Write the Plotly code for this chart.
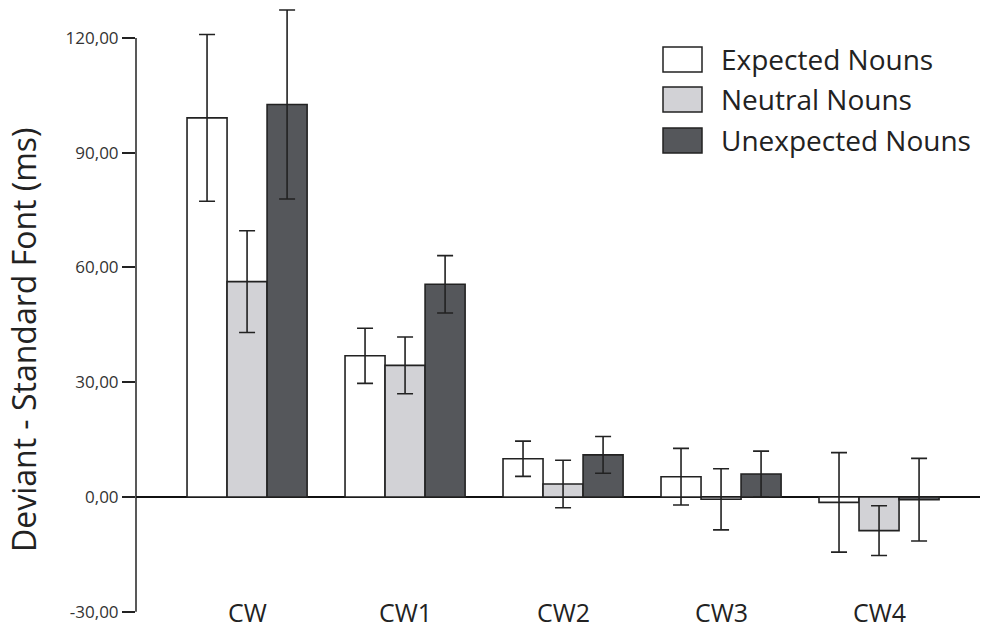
import plotly.graph_objects as go

categories = ["CW", "CW1", "CW2", "CW3", "CW4"]
series_names = ["Expected Nouns", "Neutral Nouns", "Unexpected Nouns"]
expected = [99.1, 36.9, 10.0, 5.3, -1.4]
expected_err = [21.8, 7.2, 4.6, 7.4, 13.0]
neutral = [56.3, 34.4, 3.4, -0.6, -8.8]
neutral_err = [13.3, 7.4, 6.2, 8.0, 6.5]
unexpected = [102.6, 55.6, 11.0, 6.0, -0.7]
unexpected_err = [24.7, 7.5, 4.8, 6.0, 10.8]
y_tickvals = [-30, 0, 30, 60, 90, 120]
y_ticktext = ["-30,00", "0,00", "30,00", "60,00", "90,00", "120,00"]
y_title = "Deviant - Standard Font (ms)"

values = [expected, neutral, unexpected]
errors = [expected_err, neutral_err, unexpected_err]
colors = ["#FFFFFF", "#D2D2D6", "#55575B"]
FONT = "Open Sans"

W, H = 993, 629
ML, MR, MT, MB = 136, 13, 0, 0
PLOT_H = H - MT - MB
PX_PER_UNIT = 3.826
Y0_SCREEN = 497         # pixel row of value 0
y_top = (Y0_SCREEN - MT) / PX_PER_UNIT
y_bot = -((MT + PLOT_H) - Y0_SCREEN) / PX_PER_UNIT

xpos = list(range(len(categories)))

fig = go.Figure()
for name, vals, errs, col in zip(series_names, values, errors, colors):
    fig.add_trace(go.Bar(
        x=xpos, y=vals, name=name,
        marker=dict(color=col, line=dict(color="#222222", width=1.6)),
        error_y=dict(type="data", array=errs, visible=True, color="#222222",
                     thickness=1.6, width=8),
        showlegend=False,
    ))

fig.update_layout(
    width=W, height=H,
    margin=dict(l=ML, r=MR, t=MT, b=MB, autoexpand=False),
    paper_bgcolor="white", plot_bgcolor="white",
    barmode="group", bargap=0.24, bargroupgap=0,
    font=dict(family=FONT, color="#222222"),
)
fig.update_xaxes(
    range=[-0.703, 4.639], showgrid=False, showline=False, zeroline=False,
    showticklabels=False, ticks="", automargin=False,
)
fig.update_yaxes(
    range=[y_bot, y_top], showgrid=False, showline=False, automargin=False,
    zeroline=True, zerolinecolor="#111111", zerolinewidth=1.5,
    tickvals=y_tickvals, ticktext=y_ticktext,
    ticks="outside", ticklen=13, tickwidth=1.5, tickcolor="#222222",
    tickfont=dict(size=17, color="#333333"),
)
# y axis line from -30 to 120
fig.add_shape(type="line", xref="paper", yref="y", x0=0, x1=0, y0=-30, y1=120,
              line=dict(color="#222222", width=1.5))

def py2paper(py):
    return (H - MB - py) / PLOT_H

def px2paper(px):
    return (px - ML) / (W - ML - MR)

# category labels
for xp, cat in zip(xpos, categories):
    fig.add_annotation(x=xp, xref="x", yref="paper", y=py2paper(612), text=cat,
                       showarrow=False, xanchor="center", yanchor="middle",
                       font=dict(size=25, color="#222222", family=FONT))

# y axis title
fig.add_annotation(xref="paper", yref="paper", x=px2paper(23), y=py2paper(340),
                   text=y_title, textangle=-90, showarrow=False,
                   xanchor="center", yanchor="middle",
                   font=dict(size=32, color="#222222", family=FONT))

# custom legend
box_tops = [47, 87, 128]
for name, col, top in zip(series_names, colors, box_tops):
    fig.add_shape(type="rect", xref="paper", yref="paper",
                  x0=px2paper(663), x1=px2paper(702),
                  y0=py2paper(top + 25), y1=py2paper(top),
                  fillcolor=col, line=dict(color="#222222", width=1.5))
    fig.add_annotation(xref="paper", yref="paper", x=px2paper(719), y=py2paper(top + 12),
                       text=name, showarrow=False, xanchor="left", yanchor="middle",
                       font=dict(size=28, color="#222222", family=FONT))

fig.write_html("out.html", config={"displayModeBar": False},
               post_script="document.body.style.margin='0';document.body.style.overflow='hidden';")
